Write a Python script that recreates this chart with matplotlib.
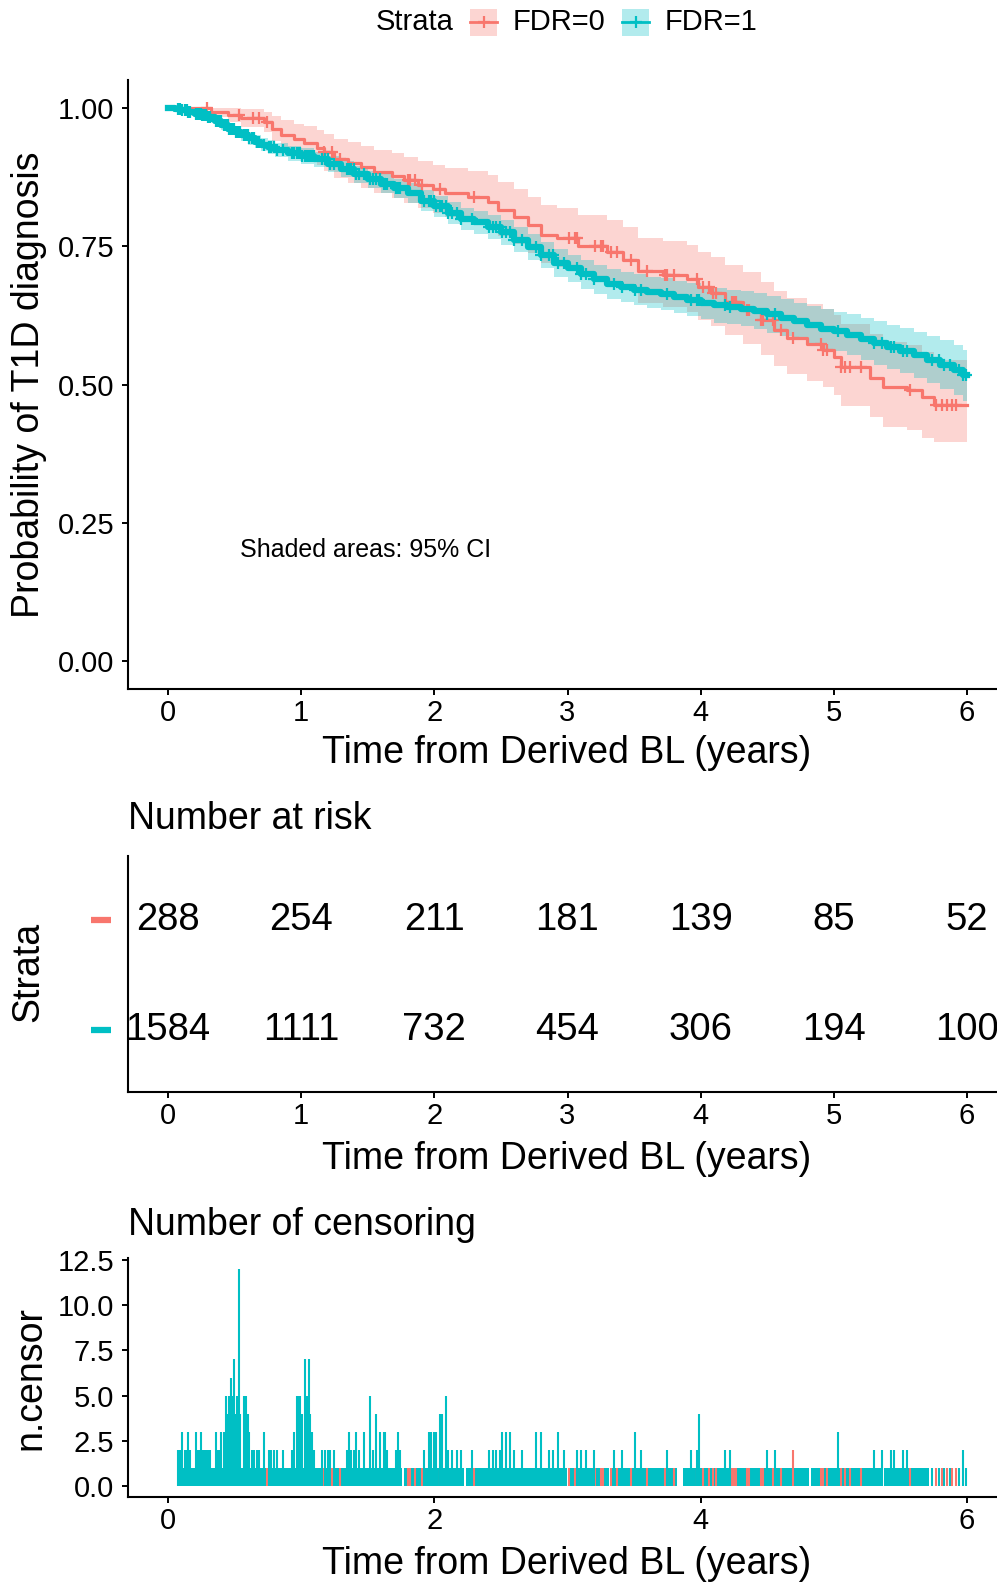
import numpy as np
import matplotlib.pyplot as plt
from matplotlib.patches import Rectangle
from matplotlib.lines import Line2D
from matplotlib.transforms import blended_transform_factory

plt.rcParams['font.family'] = ['Liberation Sans', 'DejaVu Sans']

RED = '#F8766D'
TEAL = '#00BFC4'
W, H = 997, 1583

# ---- Kaplan-Meier, FDR=0 (step start, survival, 95% CI) ----
fdr0_t = [0.00, 0.32, 0.45, 0.55, 0.72, 0.78, 0.85, 0.95, 1.02, 1.12, 1.17, 1.25, 1.35, 1.45,
          1.55, 1.68, 1.77, 1.88, 1.99, 2.08, 2.25, 2.40, 2.48, 2.60, 2.70, 2.80, 2.92, 3.08,
          3.30, 3.42, 3.53, 3.72, 3.90, 3.98, 4.08, 4.18, 4.32, 4.45, 4.55, 4.65, 4.80, 4.92,
          5.00, 5.05, 5.27, 5.37, 5.55, 5.66, 5.75]
fdr0_s = [1.000, 0.993, 0.987, 0.982, 0.975, 0.962, 0.952, 0.944, 0.937, 0.928, 0.920, 0.908,
          0.900, 0.893, 0.884, 0.877, 0.869, 0.861, 0.853, 0.846, 0.839, 0.830, 0.816, 0.803,
          0.788, 0.770, 0.765, 0.750, 0.740, 0.726, 0.705, 0.698, 0.690, 0.676, 0.666, 0.650,
          0.635, 0.617, 0.598, 0.585, 0.573, 0.563, 0.550, 0.532, 0.512, 0.496, 0.490, 0.477,
          0.463]
fdr0_lo = [1.000, 0.983, 0.974, 0.966, 0.957, 0.940, 0.927, 0.917, 0.908, 0.897, 0.887, 0.873,
           0.864, 0.856, 0.846, 0.838, 0.829, 0.820, 0.811, 0.803, 0.795, 0.785, 0.769, 0.755,
           0.738, 0.719, 0.713, 0.697, 0.686, 0.671, 0.648, 0.641, 0.632, 0.617, 0.606, 0.589,
           0.573, 0.553, 0.533, 0.519, 0.506, 0.495, 0.481, 0.462, 0.441, 0.424, 0.418, 0.404,
           0.396]
fdr0_hi = [1.000, 1.000, 1.000, 0.998, 0.993, 0.985, 0.978, 0.972, 0.967, 0.960, 0.953, 0.944,
           0.938, 0.932, 0.924, 0.918, 0.911, 0.904, 0.897, 0.891, 0.886, 0.879, 0.866, 0.854,
           0.840, 0.824, 0.820, 0.806, 0.797, 0.784, 0.765, 0.759, 0.752, 0.739, 0.730, 0.716,
           0.703, 0.686, 0.669, 0.657, 0.646, 0.637, 0.625, 0.609, 0.592, 0.577, 0.572, 0.559,
           0.544]

# ---- Kaplan-Meier, FDR=1 ----
fdr1_t = [0.00, 0.05, 0.10, 0.15, 0.20, 0.25, 0.30, 0.35, 0.40, 0.45, 0.50, 0.55, 0.60, 0.65,
          0.70, 0.75, 0.80, 0.90, 1.00, 1.10, 1.20, 1.30, 1.40, 1.50, 1.60, 1.70, 1.80, 1.90,
          2.00, 2.10, 2.20, 2.30, 2.40, 2.50, 2.60, 2.70, 2.80, 2.90, 3.00, 3.10, 3.20, 3.30,
          3.40, 3.50, 3.60, 3.70, 3.80, 3.90, 4.00, 4.10, 4.20, 4.30, 4.40, 4.50, 4.60, 4.70,
          4.80, 4.90, 5.00, 5.10, 5.20, 5.30, 5.40, 5.50, 5.60, 5.70, 5.80, 5.90, 5.97]
fdr1_s = [1.000, 0.998, 0.996, 0.993, 0.990, 0.987, 0.983, 0.977, 0.970, 0.963, 0.957, 0.951,
          0.945, 0.939, 0.934, 0.929, 0.924, 0.918, 0.913, 0.907, 0.899, 0.890, 0.880, 0.871,
          0.863, 0.855, 0.846, 0.832, 0.822, 0.810, 0.800, 0.793, 0.785, 0.775, 0.762, 0.749,
          0.734, 0.720, 0.710, 0.699, 0.690, 0.682, 0.676, 0.671, 0.667, 0.663, 0.658, 0.653,
          0.648, 0.643, 0.640, 0.637, 0.633, 0.627, 0.621, 0.614, 0.607, 0.601, 0.596, 0.590,
          0.583, 0.575, 0.568, 0.561, 0.553, 0.545, 0.536, 0.526, 0.517]
fdr1_lo = [1.000, 0.996, 0.993, 0.989, 0.985, 0.981, 0.976, 0.969, 0.961, 0.953, 0.947, 0.940,
           0.934, 0.927, 0.922, 0.916, 0.911, 0.905, 0.899, 0.893, 0.884, 0.875, 0.864, 0.855,
           0.846, 0.838, 0.828, 0.813, 0.803, 0.790, 0.780, 0.772, 0.764, 0.753, 0.739, 0.726,
           0.710, 0.695, 0.685, 0.673, 0.664, 0.655, 0.649, 0.643, 0.639, 0.634, 0.629, 0.623,
           0.618, 0.612, 0.609, 0.605, 0.601, 0.594, 0.587, 0.580, 0.572, 0.565, 0.560, 0.553,
           0.545, 0.536, 0.528, 0.520, 0.511, 0.502, 0.492, 0.481, 0.471]
fdr1_hi = [1.000, 1.000, 0.999, 0.997, 0.995, 0.993, 0.990, 0.985, 0.979, 0.973, 0.967, 0.962,
           0.956, 0.951, 0.946, 0.942, 0.937, 0.931, 0.927, 0.921, 0.914, 0.905, 0.896, 0.887,
           0.880, 0.872, 0.864, 0.851, 0.841, 0.830, 0.820, 0.814, 0.806, 0.797, 0.785, 0.772,
           0.758, 0.745, 0.735, 0.725, 0.716, 0.709, 0.703, 0.699, 0.695, 0.692, 0.687, 0.683,
           0.678, 0.674, 0.671, 0.669, 0.665, 0.660, 0.655, 0.648, 0.642, 0.637, 0.632, 0.627,
           0.621, 0.614, 0.608, 0.602, 0.595, 0.588, 0.580, 0.571, 0.563]
end_time = 6.0

# ---- censoring ----
fdr0_cens_t = [0.29, 0.53, 0.64, 0.68, 0.74, 1.17, 1.23, 1.29, 1.80, 1.815, 1.855, 1.91, 2.045,
               2.295, 3.01, 3.06, 3.07, 3.21, 3.25, 3.27, 3.33, 3.37, 3.48, 3.60, 3.73, 3.75,
               3.80, 3.97, 4.02, 4.06, 4.09, 4.115, 4.235, 4.25, 4.265, 4.35, 4.365, 4.45, 4.47,
               4.545, 4.60, 4.69, 4.90, 4.92, 4.95, 5.05, 5.085, 5.12, 5.20, 5.57, 5.77, 5.81,
               5.85, 5.89, 5.92]
fdr0_cens_n = [1, 3, 1, 1, 1, 1, 1, 1, 1, 1, 1, 1, 1,
               1, 1, 1, 1, 1, 1, 1, 1, 1, 1, 1, 1, 1,
               1, 1, 1, 1, 1, 1, 1, 1, 1, 1, 1, 1, 1,
               1, 1, 2, 1, 1, 1, 1, 1, 1, 1, 1, 1, 1,
               1, 1, 1]
# FDR=1: nearly continuous runs of single censorings
fdr1_runs = [(0.065, 1.76), (1.775, 2.225), (2.235, 2.995), (3.005, 3.315), (3.325, 3.825),
             (3.865, 4.255), (4.27, 4.815), (4.83, 5.365), (5.38, 5.715)]
fdr1_single_t = [5.74, 5.79, 5.83, 5.87, 5.94, 5.99]
# FDR=1: times with more than one censoring
fdr1_cens_t = [0.074, 0.089, 0.109, 0.126, 0.144, 0.151, 0.169, 0.209, 0.219, 0.234, 0.249, 0.259,
               0.274, 0.289, 0.304, 0.319, 0.359, 0.374, 0.394, 0.399, 0.424, 0.439, 0.449, 0.459,
               0.474, 0.484, 0.494, 0.509, 0.522, 0.534, 0.544, 0.574, 0.589, 0.599, 0.609, 0.634,
               0.649, 0.669, 0.684, 0.724, 0.759, 0.774, 0.794, 0.819, 0.864, 0.934, 0.944, 0.969,
               0.984, 0.994, 1.009, 1.029, 1.044, 1.059, 1.069, 1.084, 1.094, 1.159, 1.179, 1.199,
               1.219, 1.244, 1.345, 1.360, 1.374, 1.394, 1.415, 1.435, 1.470, 1.515, 1.540, 1.565,
               1.595, 1.620, 1.632, 1.645, 1.710, 1.725, 1.745, 1.925, 1.960, 1.975, 1.995, 2.010,
               2.040, 2.060, 2.085, 2.105, 2.13, 2.17, 2.20, 2.28, 2.41, 2.44, 2.46, 2.49, 2.51,
               2.54, 2.57, 2.60, 2.66, 2.76, 2.80, 2.86, 2.89, 2.93, 2.97, 3.07, 3.10, 3.14, 3.20,
               3.35, 3.41, 3.51, 3.55, 3.75, 3.93, 3.97, 3.99, 4.18, 4.22, 4.50, 4.56, 5.03, 5.30,
               5.36, 5.43, 5.45, 5.52, 5.55, 5.97]
fdr1_cens_n = [2, 2, 3, 2, 2, 3, 2, 3, 2, 2, 3, 2,
               2, 2, 2, 2, 3, 2, 2, 3, 3, 5, 4, 5,
               6, 5, 7, 4, 5, 12, 4, 5, 5, 4, 3, 2,
               2, 2, 2, 3, 2, 2, 2, 2, 2, 2, 3, 5,
               5, 5, 4, 7, 5, 7, 4, 3, 2, 2, 2, 2,
               2, 2, 2, 3, 2, 2, 3, 2, 3, 5, 2, 4,
               3, 3, 3, 2, 2, 3, 2, 2, 3, 3, 3, 3,
               4, 4, 5, 2, 2, 2, 2, 2, 2, 2, 2, 2, 3,
               3, 3, 2, 2, 3, 3, 2, 2, 3, 2, 2, 2, 2, 2,
               2, 2, 3, 2, 2, 2, 2, 4, 2, 2, 2, 2, 3, 2,
               2, 2, 2, 2, 2, 2]

# ---- number at risk ----
risk_times = [0, 1, 2, 3, 4, 5, 6]
fdr0_risk = [288, 254, 211, 181, 139, 85, 52]
fdr1_risk = [1584, 1111, 732, 454, 306, 194, 100]


def surv_at(t_knots, s_knots, times):
    idx = np.searchsorted(t_knots, times, side='right') - 1
    return np.asarray(s_knots)[idx]


def style(ax, xticks):
    for s in ['top', 'right']:
        ax.spines[s].set_visible(False)
    for s in ['left', 'bottom']:
        ax.spines[s].set_linewidth(1.5)
    ax.set_xlim(-0.3, 6.3)
    ax.set_xticks(xticks)
    ax.tick_params(axis='both', length=4.3, width=1.4, labelsize=21)
    ax.tick_params(axis='x', pad=3)
    ax.tick_params(axis='y', pad=5.5)


fig = plt.figure(figsize=(W / 100, H / 100), dpi=100)

def fx(px):
    return px / W

def fy(py):
    return 1 - py / H

x_left = 128
x_w = 879

# ---------- survival curves ----------
ax1 = fig.add_axes([fx(x_left), fy(688.6), x_w / W, (688.6 - 80.4) / H])
curves = [(fdr0_t, fdr0_s, fdr0_lo, fdr0_hi, fdr0_cens_t, RED, 2.3),
          (fdr1_t, fdr1_s, fdr1_lo, fdr1_hi, fdr1_cens_t + fdr1_single_t, TEAL, 4.5)]
for t, s, lo, hi, ct, col, lw in curves:
    ax1.fill_between(t + [end_time], lo + [lo[-1]], hi + [hi[-1]], step='post',
                     color=col, alpha=0.3, lw=0)
for t, s, lo, hi, ct, col, lw in curves:
    ax1.step(t + [end_time], s + [s[-1]], where='post', color=col, lw=lw)
    ax1.plot(ct, surv_at(t, s, ct), ls='none', marker='+', ms=9, mew=1.6, color=col)
style(ax1, risk_times)
ax1.set_ylim(-0.05, 1.05)
ax1.set_yticks([0, 0.25, 0.5, 0.75, 1.0])
ax1.set_yticklabels(['0.00', '0.25', '0.50', '0.75', '1.00'])
ax1.text(0.54, 0.20, 'Shaded areas: 95% CI', fontsize=18, ha='left', va='center')
fig.text(fx(29), fy(385), 'Probability of T1D diagnosis', rotation=90, fontsize=27,
         ha='center', va='center')
fig.text(fx(567), fy(753), 'Time from Derived BL (years)', fontsize=27, ha='center', va='center')

# ---------- risk table ----------
ax2 = fig.add_axes([fx(x_left), fy(1092), x_w / W, 236 / H])
style(ax2, risk_times)
ax2.set_ylim(0.436, 2.58)
ax2.set_yticks([])
for x, n in zip(risk_times, fdr0_risk):
    ax2.text(x, 2, str(n), fontsize=27.5, ha='center', va='center')
for x, n in zip(risk_times, fdr1_risk):
    ax2.text(x, 1, str(n), fontsize=27.5, ha='center', va='center')
tr = blended_transform_factory(ax2.transAxes, ax2.transData)
for yy, col in [(2, RED), (1, TEAL)]:
    ax2.add_line(Line2D([-0.042, -0.019], [yy, yy], transform=tr, color=col, lw=4.5,
                        solid_capstyle='butt', clip_on=False))
fig.text(fx(128), fy(819), 'Number at risk', fontsize=27, ha='left', va='center')
fig.text(fx(28), fy(972), 'Strata', rotation=90, fontsize=27, ha='center', va='center')
fig.text(fx(567), fy(1159), 'Time from Derived BL (years)', fontsize=27, ha='center', va='center')

# ---------- censoring ----------
ax3 = fig.add_axes([fx(x_left), fy(1497), x_w / W, (1497 - 1258) / H])
style(ax3, [0, 2, 4, 6])
ax3.set_ylim(-0.6, 12.6)
ax3.set_yticks([0, 2.5, 5, 7.5, 10, 12.5])
ax3.set_yticklabels(['0.0', '2.5', '5.0', '7.5', '10.0', '12.5'])
run_start = [a for a, b in fdr1_runs]
run_width = [b - a for a, b in fdr1_runs]
ax3.bar(run_start, [1] * len(fdr1_runs), width=run_width, align='edge', color=TEAL, lw=0)
ax3.vlines(fdr1_single_t, 0, 1, color=TEAL, lw=1.5)
ax3.vlines(fdr0_cens_t, 0, fdr0_cens_n, color=RED, lw=1.5)
ax3.vlines(fdr1_cens_t, 0, fdr1_cens_n, color=TEAL, lw=1.5)
fig.text(fx(128), fy(1225), 'Number of censoring', fontsize=27, ha='left', va='center')
fig.text(fx(30), fy(1378), 'n.censor', rotation=90, fontsize=27, ha='center', va='center')
fig.text(fx(567), fy(1564), 'Time from Derived BL (years)', fontsize=27, ha='center', va='center')

# ---------- legend ----------
lg = fig.add_axes([0, 0, 1, 1], zorder=-1)
lg.set_xlim(0, W)
lg.set_ylim(H, 0)
lg.axis('off')
lg.text(376, 22, 'Strata', fontsize=21, ha='left', va='center')
for x0, col, lab in [(470, RED, 'FDR=0'), (622, TEAL, 'FDR=1')]:
    lg.add_patch(Rectangle((x0, 8.5), 27, 27, facecolor=col, alpha=0.3, lw=0))
    lg.plot([x0, x0 + 27], [22, 22], color=col, lw=2)
    lg.plot([x0 + 13.5], [22], marker='+', ms=9, mew=1.6, color=col)
    lg.text(x0 + 43, 22, lab, fontsize=21, ha='left', va='center')

fig.savefig('out.png', dpi=100)
